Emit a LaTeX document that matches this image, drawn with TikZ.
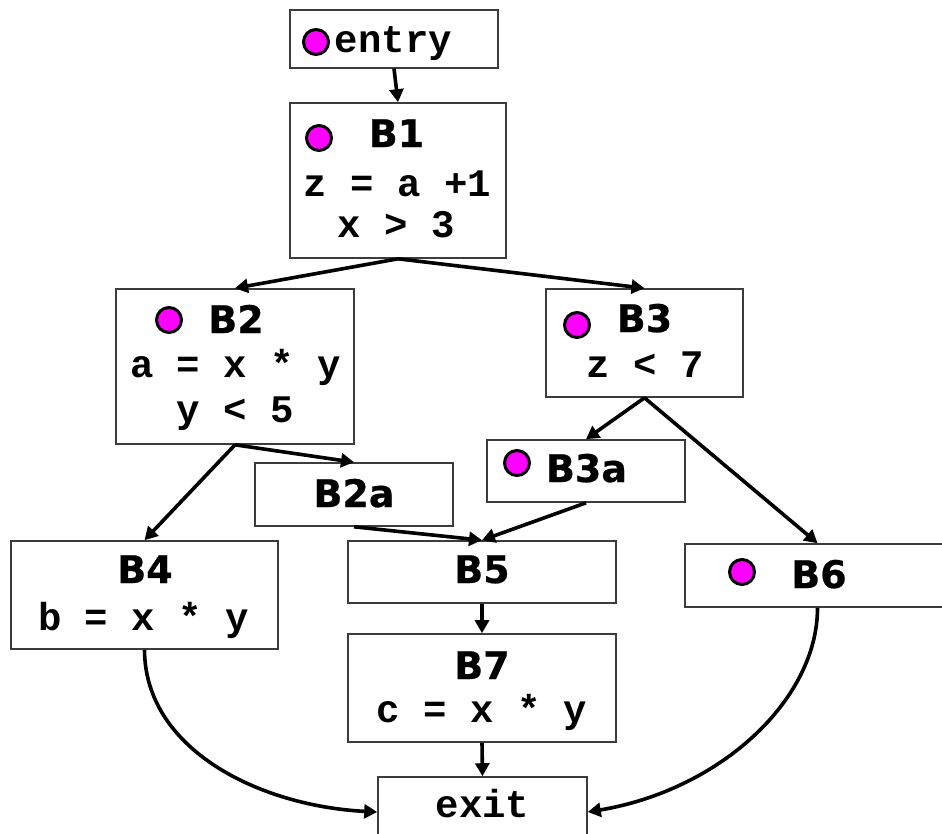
\documentclass[tikz,border=0pt]{standalone}
\usepackage{fontspec}
\usetikzlibrary{arrows.meta}
\newfontfamily\monob{Liberation Mono}
\newfontfamily\sansb{DejaVu Sans}[BoldFeatures={FakeBold=0.6}]
\definecolor{dotfill}{RGB}{255,0,255}
\definecolor{boxedge}{RGB}{60,60,60}
\begin{document}
\begin{tikzpicture}[x=1pt,y=-1pt,
  blk/.style={draw=boxedge, line width=1.6pt, fill=white, inner sep=0pt, rectangle},
  code/.style={font=\monob\bfseries\fontsize{39}{44}\selectfont, anchor=base, inner sep=0pt},
  bname/.style={font=\sansb\bfseries\fontsize{38}{42}\selectfont, anchor=base, inner sep=0pt},
  dotn/.style={circle, draw=black, line width=3pt, fill=dotfill, minimum size=25pt, inner sep=0pt},
  arr/.style={-{Triangle[length=13pt,width=14pt]}, line width=3.6pt},
]
\useasboundingbox (0,0) rectangle (942,833);
\clip (0,0) rectangle (942,833);
% boxes
\node[blk, minimum width=208pt, minimum height=58pt] (entry) at (394,39) {};
\node[blk, minimum width=216pt, minimum height=155pt] (B1) at (398,180.5) {};
\node[blk, minimum width=238pt, minimum height=155pt] (B2) at (235,366.5) {};
\node[blk, minimum width=197pt, minimum height=108pt] (B3) at (644.5,343) {};
\node[blk, minimum width=198pt, minimum height=62pt] (B3a) at (586,471) {};
\node[blk, minimum width=198pt, minimum height=63pt] (B2a) at (354,494.5) {};
\node[blk, minimum width=267pt, minimum height=108pt] (B4) at (144.5,595) {};
\node[blk, minimum width=268pt, minimum height=62pt] (B5) at (482,572) {};
\node[blk, minimum width=268pt, minimum height=108pt] (B7) at (482,688) {};
\node[blk, minimum width=209pt, minimum height=70pt] (exit) at (482.5,812) {};
\node[blk, minimum width=265pt, minimum height=63pt] (B6) at (817.5,575.5) {};
% texts
\node[dotn] (dentry) at (316,42) {};
\node[code] (tentry) at (393.5,52) {entry};
\node[dotn] (dB1) at (319,138) {};
\node[bname] (nB1) at (396.5,147) {B1};
\node[code] (cB1a) at (397.5,196) {z = a +1};
\node[code] (cB1b) at (396.5,237) {x > 3};
\node[dotn] (dB2) at (169,320) {};
\node[bname] (nB2) at (236,333) {B2};
\node[code] (cB2a) at (235.5,377) {a = x * y};
\node[code] (cB2b) at (235,422) {y < 5};
\node[dotn] (dB3) at (577,325) {};
\node[bname] (nB3) at (644.5,332) {B3};
\node[code] (cB3a) at (645,377) {z < 7};
\node[dotn] (dB3a) at (517,463) {};
\node[bname] (nB3a) at (586.5,482) {B3a};
\node[bname] (nB2a) at (354,507) {B2a};
\node[bname] (nB4) at (145,583) {B4};
\node[code] (cB4) at (143.5,630) {b = x * y};
\node[bname] (nB5) at (482,583) {B5};
\node[bname] (nB7) at (482,679) {B7};
\node[code] (cB7) at (482,722) {c = x * y};
\node[code] (texit) at (482.5,817) {exit};
\node[dotn] (dB6) at (742,572) {};
\node[bname] (nB6) at (819,588) {B6};
% connectors
\draw[arr] (entry.south) -- (B1.north);
\draw[arr] (B1.south) -- (B2.north);
\draw[arr] (B1.south) -- (B3.north);
\draw[arr] (B2.south) -- (B4.north);
\draw[arr] (B2.south) -- (B2a.north);
\draw[arr] (B3.south) -- (B3a.north);
\draw[arr] (B3.south) -- (B6.north);
\draw[arr] (B2a.south) -- (B5.north);
\draw[arr] (B3a.south) -- (B5.north);
\draw[arr] (B5.south) -- (B7.north);
\draw[arr] (B7.south) -- (exit.north);
\draw[arr] (B4.south) .. controls (145,750) and (260,806) .. (exit.west);
\draw[arr] (B6.south) .. controls (817.5,700) and (720,790) .. (exit.east);
\end{tikzpicture}
\end{document}
